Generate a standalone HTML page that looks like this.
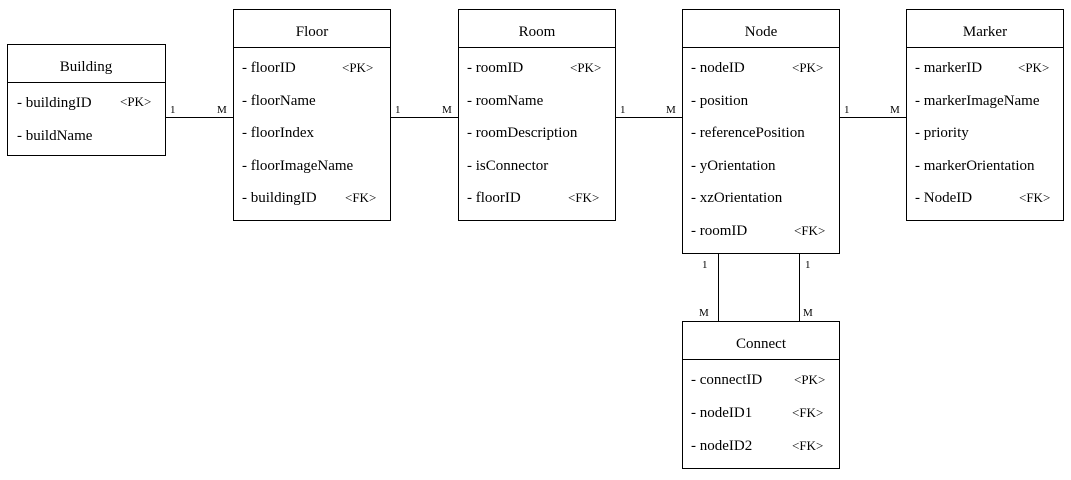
<!DOCTYPE html>
<html><head><meta charset="utf-8"><style>
html,body{margin:0;padding:0;background:#fff;}
svg text{font-family:"Liberation Serif",serif;fill:#000;}
</style></head><body>
<svg width="1071" height="475" viewBox="0 0 1071 475" xmlns="http://www.w3.org/2000/svg">
<g fill="none" stroke="#000" stroke-width="1">
<rect x="7.5" y="44.5" width="158" height="111"/><line x1="7.5" y1="82.5" x2="165.5" y2="82.5"/>
<rect x="233.5" y="9.5" width="157" height="211"/><line x1="233.5" y1="47.5" x2="390.5" y2="47.5"/>
<rect x="458.5" y="9.5" width="157" height="211"/><line x1="458.5" y1="47.5" x2="615.5" y2="47.5"/>
<rect x="682.5" y="9.5" width="157" height="244"/><line x1="682.5" y1="47.5" x2="839.5" y2="47.5"/>
<rect x="906.5" y="9.5" width="157" height="211"/><line x1="906.5" y1="47.5" x2="1063.5" y2="47.5"/>
<rect x="682.5" y="321.5" width="157" height="147"/><line x1="682.5" y1="359.5" x2="839.5" y2="359.5"/>
<line x1="165.5" y1="117.5" x2="233.5" y2="117.5"/>
<line x1="390.5" y1="117.5" x2="458.5" y2="117.5"/>
<line x1="615.5" y1="117.5" x2="682.5" y2="117.5"/>
<line x1="839.5" y1="117.5" x2="906.5" y2="117.5"/>
<line x1="718.5" y1="253.5" x2="718.5" y2="321.5"/>
<line x1="799.5" y1="253.5" x2="799.5" y2="321.5"/>
</g>
<g font-size="15" text-anchor="middle">
<text x="86" y="71">Building</text>
<text x="312" y="36">Floor</text>
<text x="537" y="36">Room</text>
<text x="761" y="36">Node</text>
<text x="985" y="36">Marker</text>
<text x="761" y="348">Connect</text>
</g>
<g font-size="11">
<text x="170" y="113">1</text><text x="217" y="113">M</text>
<text x="395" y="113">1</text><text x="442" y="113">M</text>
<text x="620" y="113">1</text><text x="666" y="113">M</text>
<text x="844" y="113">1</text><text x="890" y="113">M</text>
<text x="702" y="268">1</text><text x="805" y="268">1</text>
<text x="699" y="316">M</text><text x="803" y="316">M</text>
</g>
<g font-size="15">
<text x="17" y="107">- buildingID</text><text x="17" y="140">- buildName</text>
<text x="242" y="72">- floorID</text><text x="242" y="105">- floorName</text><text x="242" y="137">- floorIndex</text><text x="242" y="170">- floorImageName</text><text x="242" y="202">- buildingID</text>
<text x="467" y="72">- roomID</text><text x="467" y="105">- roomName</text><text x="467" y="137">- roomDescription</text><text x="467" y="170">- isConnector</text><text x="467" y="202">- floorID</text>
<text x="691" y="72">- nodeID</text><text x="691" y="105">- position</text><text x="691" y="137">- referencePosition</text><text x="691" y="170">- yOrientation</text><text x="691" y="202">- xzOrientation</text><text x="691" y="235">- roomID</text>
<text x="915" y="72">- markerID</text><text x="915" y="105">- markerImageName</text><text x="915" y="137">- priority</text><text x="915" y="170">- markerOrientation</text><text x="915" y="202">- NodeID</text>
<text x="691" y="384">- connectID</text><text x="691" y="417">- nodeID1</text><text x="691" y="450">- nodeID2</text>
</g>
<g font-size="13">
<text x="120" y="106">&lt;PK&gt;</text>
<text x="342" y="72">&lt;PK&gt;</text><text x="345" y="202">&lt;FK&gt;</text>
<text x="570" y="72">&lt;PK&gt;</text><text x="568" y="202">&lt;FK&gt;</text>
<text x="792" y="72">&lt;PK&gt;</text><text x="794" y="235">&lt;FK&gt;</text>
<text x="1018" y="72">&lt;PK&gt;</text><text x="1019" y="202">&lt;FK&gt;</text>
<text x="794" y="384">&lt;PK&gt;</text><text x="792" y="417">&lt;FK&gt;</text><text x="792" y="450">&lt;FK&gt;</text>
</g>
</svg>
</body></html>
